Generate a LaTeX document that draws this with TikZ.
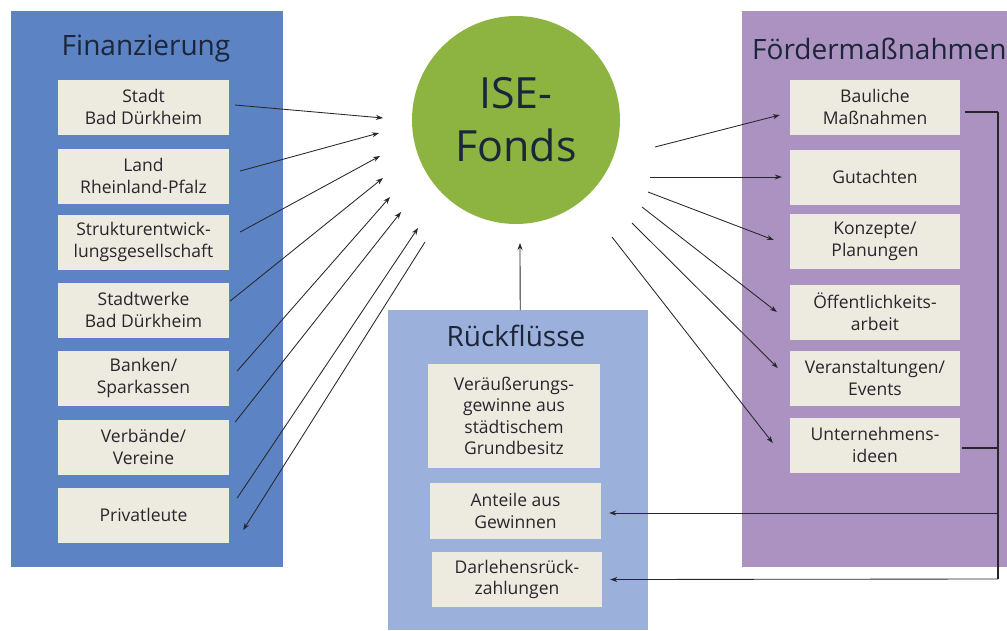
\documentclass[tikz,border=0pt]{standalone}
\usepackage{fontspec}
\setmainfont{Open Sans}
\usetikzlibrary{arrows.meta,calc}

\definecolor{finblue}{RGB}{92,131,196}
\definecolor{rueckblue}{RGB}{156,176,220}
\definecolor{foerdlila}{RGB}{172,146,192}
\definecolor{boxbeige}{RGB}{237,235,223}
\definecolor{fondsgreen}{RGB}{141,180,64}
\definecolor{inkdark}{RGB}{38,38,44}
\definecolor{titlenavy}{RGB}{28,38,58}

\begin{document}
\begin{tikzpicture}[x=1pt,y=-1pt,
  panel/.style={anchor=north west, inner sep=0pt, draw=none},
  paneltitle/.style={inner sep=0pt, text=titlenavy, font=\fontsize{28}{32}\selectfont},
  item/.style={fill=boxbeige, minimum width=171pt, minimum height=55pt, inner sep=0pt,
    align=center, text=inkdark, font=\fontsize{17.5}{21.5}\selectfont},
  flow/.style={draw=inkdark, line width=0.85pt, -{Stealth[length=7pt,width=5pt]}},
  link/.style={draw=inkdark, line width=1.1pt},
]
\useasboundingbox (0,0) rectangle (1007,630);

% coloured panels
\node[panel, fill=finblue, minimum width=272pt, minimum height=556pt] (pfin) at (11,11) {};
\node[panel, fill=foerdlila, minimum width=265pt, minimum height=556pt] (pfoe) at (742,11) {};
\node[panel, fill=rueckblue, minimum width=260pt, minimum height=320pt] (prue) at (388,310) {};

\node[paneltitle] (tfin) at (146,49) {Finanzierung};
\node[paneltitle, anchor=west] (tfoe) at (752,49) {Fördermaßnahmen};
\node[paneltitle] (true) at (516,336) {Rückflüsse};

% the fund
\node[circle, fill=fondsgreen, minimum size=208pt, inner sep=0pt, align=center,
  text=titlenavy, font=\fontsize{43}{53}\selectfont] (fonds) at (516,120) {ISE-\\Fonds};

% sources of finance
\node[item] (b1) at (143.5,107) {Stadt\\Bad Dürkheim};
\node[item] (b2) at (143.5,176) {Land\\Rheinland-Pfalz};
\node[item] (b3) at (143.5,242) {Strukturentwick-\\lungsgesellschaft};
\node[item] (b4) at (143.5,310) {Stadtwerke\\Bad Dürkheim};
\node[item] (b5) at (143.5,378) {Banken/\\Sparkassen};
\node[item] (b6) at (143.5,447) {Verbände/\\Vereine};
\node[item] (b7) at (143.5,515) {Privatleute};

% funding measures
\node[item, minimum width=170pt] (r1) at (875,107) {Bauliche\\Maßnahmen};
\node[item, minimum width=170pt] (r2) at (875,177) {Gutachten};
\node[item, minimum width=170pt] (r3) at (875,241.5) {Konzepte/\\Planungen};
\node[item, minimum width=170pt] (r4) at (875,312) {Öffentlichkeits-\\arbeit};
\node[item, minimum width=170pt] (r5) at (875,378) {Veranstaltungen/\\Events};
\node[item, minimum width=170pt] (r6) at (875,445) {Unternehmens-\\ideen};

% returns
\node[item, minimum width=172pt, minimum height=104pt] (v1) at (514,416) {Veräußerungs-\\gewinne aus\\städtischem\\Grundbesitz};
\node[item, minimum width=171pt, minimum height=56pt] (v2) at (515.5,511) {Anteile aus\\Gewinnen};
\node[item, minimum width=170pt] (v3) at (517,579.5) {Darlehensrück-\\zahlungen};

% arrow ends around the fund
\coordinate (f1) at (383,118);
\coordinate (f2) at (379,133);
\coordinate (f3) at (380,156);
\coordinate (f4) at (383,178);
\coordinate (f5) at (390,197);
\coordinate (f6) at (401,212);
\coordinate (f7) at (418,228);
\coordinate (f8) at (425,242);
\coordinate (g1) at (655,147);
\coordinate (g2) at (650,177);
\coordinate (g3) at (648,192);
\coordinate (g4) at (642,207);
\coordinate (g5) at (632,223);
\coordinate (g6) at (612,237);
\coordinate (fb) at (520,243);

% money flowing in
\draw[flow] ($(b1.east)+(6,-2)$) -- (f1);
\draw[flow] ($(b2.east)+(11,-5)$) -- (f2);
\draw[flow] ($(b3.east)+(11,-10)$) -- (f3);
\draw[flow] ($(b4.east)+(1,-9)$) -- (f4);
\draw[flow] ($(b5.east)+(8,-7)$) -- (f5);
\draw[flow] ($(b6.east)+(6,-25)$) -- (f6);
\draw[flow] ($(b7.east)+(8,-17)$) -- (f7);
\draw[flow] (f8) -- ($(b7.east)+(14,15)$);
\draw[flow] ($(prue.north)+(2,0)$) -- (fb);

% money flowing out
\draw[flow] (g1) -- ($(r1.west)+(-10,8)$);
\draw[flow] (g2) -- ($(r2.west)+(-8,0)$);
\draw[flow] (g3) -- ($(r3.west)+(-16,-1.5)$);
\draw[flow] (g4) -- ($(r4.west)+(-13,0)$);
\draw[flow] (g5) -- ($(r5.west)+(-12,-10)$);
\draw[flow] (g6) -- ($(r6.west)+(-17,-2)$);

% repayments back to the returns column
\coordinate (ctop) at (998,112);
\coordinate (cmid) at (998,448);
\coordinate (cant) at (998,513);
\coordinate (cbot) at (998,579);
\draw[link, line width=2pt] ($(r1.east)+(5,5)$) -- (ctop);
\draw[link] (ctop) -- (cbot);
\draw[link] ($(r6.east)+(2,3)$) -- (cmid);
\draw[flow] (cant) -- ($(v2.east)+(8,2)$);
\draw[flow] (cbot) -- ($(v3.east)+(8,0)$);
\end{tikzpicture}
\end{document}
